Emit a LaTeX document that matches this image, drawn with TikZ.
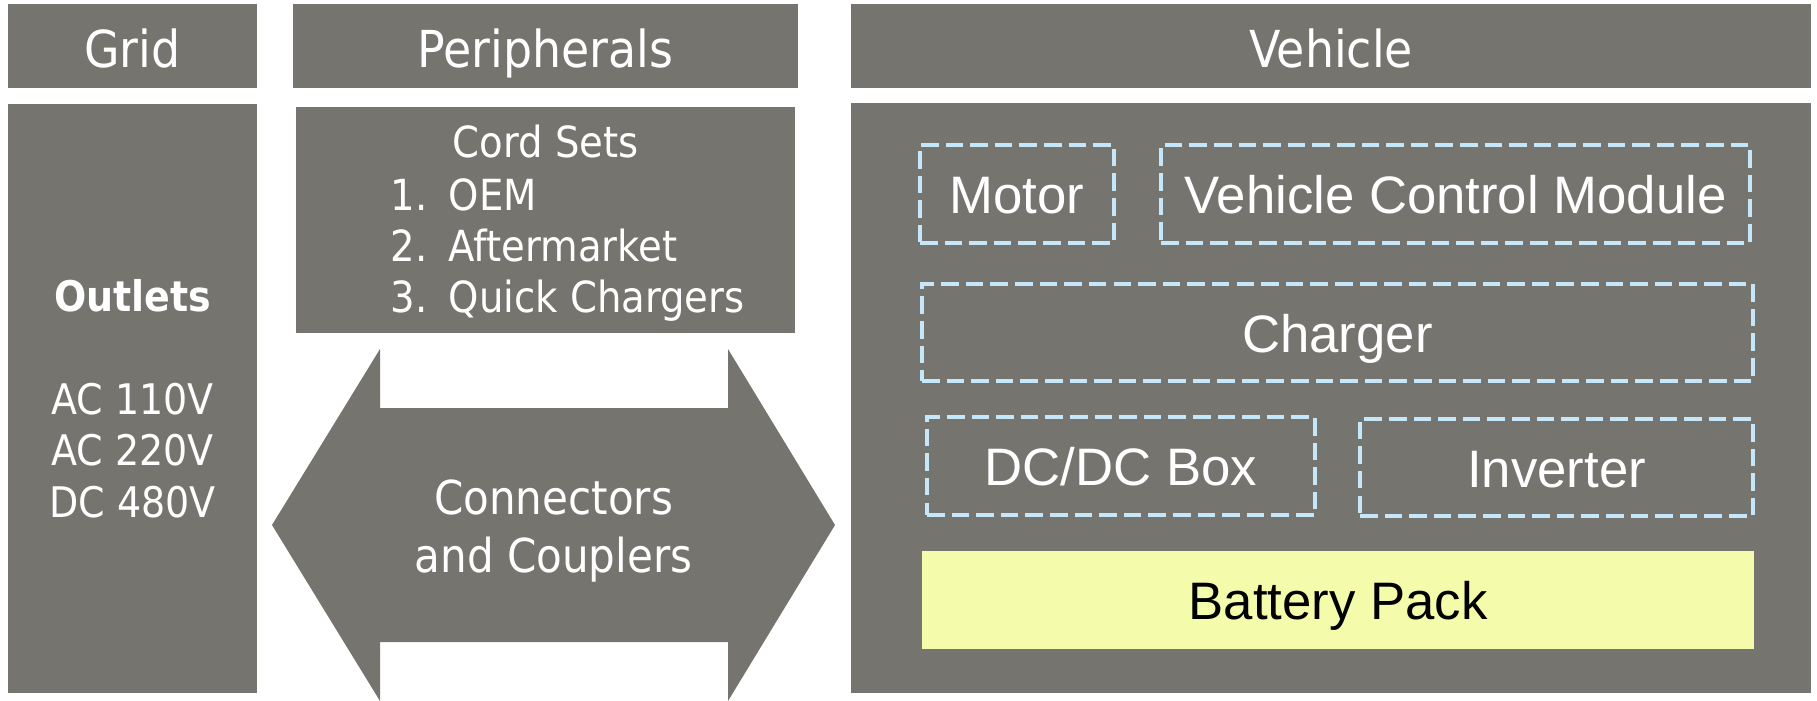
\documentclass[tikz,border=0pt]{standalone}
\usepackage{fontspec}
\setmainfont{Liberation Sans}
\newfontfamily\tahfont[FakeStretch=0.9]{DejaVu Sans}
\usepackage{tikz}

\definecolor{boxgray}{RGB}{118,116,111}
\definecolor{edgeblue}{RGB}{198,231,250}
\definecolor{packyellow}{RGB}{244,251,170}

\tikzset{
	graybox/.style={fill=boxgray, inner sep=0pt, text=white},
	headbox/.style={graybox, font=\tahfont\fontsize{14.5}{17}\selectfont, text height=12pt, text depth=0pt},
	partbox/.style={draw=edgeblue, line width=1.4pt, dash pattern=on 5pt off 2pt, inner sep=0pt,
		text=white, font=\fontsize{15}{18}\selectfont, text height=11.3pt, text depth=0pt},
	listitem/.style={anchor=base west, inner sep=0pt, text=white, font=\tahfont\fontsize{12.2}{14.65}\selectfont},
}

\begin{document}
\begin{tikzpicture}[x=0.1mm, y=-0.1mm]

		\useasboundingbox (0,0) rectangle (1817,700);

		\node[headbox, minimum width=24.9mm, minimum height=8.4mm] (gridhd) at ( 132.5, 46) {Grid};
		\node[headbox, minimum width=50.5mm, minimum height=8.4mm] (perihd) at ( 545.5, 46) {Peripherals};
		\node[headbox, minimum width=96.0mm, minimum height=8.4mm] (vehhd)  at (1331.0, 46) {Vehicle};

		\node[graybox, minimum width=24.9mm, minimum height=58.9mm, align=center,
			font=\tahfont\fontsize{12}{14.65}\selectfont] (outlets) at (132.5, 398.5)
			{\textbf{Outlets}\\[14.65pt]AC 110V\\AC 220V\\DC 480V};

		\node[graybox, minimum width=49.9mm, minimum height=22.6mm] (cords) at (545.5, 220) {};
		\node[listitem, anchor=base] (cordtitle) at (545.5, 157) {Cord Sets};
		\node[listitem] (oem)   at (390, 210) {\makebox[5.8mm][l]{1.}OEM};
		\node[listitem] (after) at (390, 261) {\makebox[5.8mm][l]{2.}Aftermarket};
		\node[listitem] (quick) at (390, 312) {\makebox[5.8mm][l]{3.}Quick Chargers};

		\fill[boxgray] (272,525) -- (380,349) -- (380,408) -- (728,408) -- (728,349) -- (835,525)
			-- (728,701) -- (728,642) -- (380,642) -- (380,701) -- cycle;
		\node[text=white, inner sep=0pt, align=center, font=\tahfont\fontsize{13.3}{16.5}\selectfont]
			(couplers) at (553.5, 531) {Connectors\\and Couplers};

		\node[graybox, minimum width=96.0mm, minimum height=59.0mm] (vehicle) at (1331, 398) {};

		\node[partbox, minimum width=19.4mm, minimum height=9.8mm] (motor)    at (1017.0, 194.0) {Motor};
		\node[partbox, minimum width=58.9mm, minimum height=9.8mm] (vcm)      at (1455.5, 194.0) {Vehicle Control Module};
		\node[partbox, minimum width=83.1mm, minimum height=9.7mm] (charger)  at (1337.5, 332.5) {Charger};
		\node[partbox, minimum width=38.8mm, minimum height=9.8mm] (dcdc)     at (1121.0, 466.0) {DC/DC Box};
		\node[partbox, minimum width=39.3mm, minimum height=9.7mm] (inverter) at (1556.5, 467.5) {Inverter};
		\node[fill=packyellow, inner sep=0pt, minimum width=83.2mm, minimum height=9.8mm,
			font=\fontsize{15}{18}\selectfont, text height=11.3pt, text depth=0pt] (battery) at (1338, 600) {Battery Pack};

\end{tikzpicture}
\end{document}
